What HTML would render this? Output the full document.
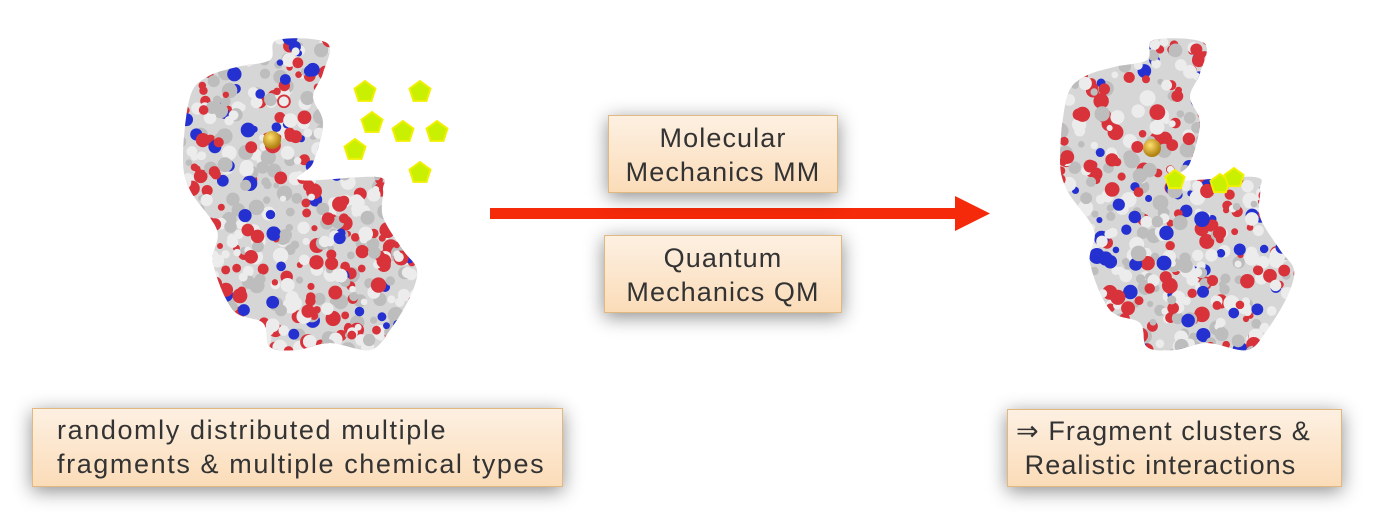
<!DOCTYPE html>
<html><head><meta charset="utf-8"><style>
html,body{margin:0;padding:0;background:#fff;}
body{width:1388px;height:532px;position:relative;overflow:hidden;font-family:"Liberation Sans",sans-serif;color:#333;}
.box{position:absolute;background:linear-gradient(#fdf0e2,#fbdcb8);border:1px solid #e0b880;box-shadow:0 4px 18px rgba(0,0,0,0.45);font-size:27px;letter-spacing:1.1px;line-height:34px;box-sizing:border-box;white-space:nowrap;}
.c{text-align:center;}
svg{position:absolute;left:0;top:0;}
</style></head><body>
<svg id="s" width="1388" height="532" viewBox="0 0 1388 532">
<defs>
<clipPath id="cp"><path id="blob" d=""/></clipPath>
<radialGradient id="gold" cx="0.4" cy="0.35" r="0.6"><stop offset="0" stop-color="#ffe070"/><stop offset="1" stop-color="#b08010"/></radialGradient>
</defs>
<g id="p1" clip-path="url(#cp)"><rect x="170" y="30" width="260" height="330" fill="#d6d6d6"/></g>
<g id="p2" transform="translate(877,0)" clip-path="url(#cp)"><rect x="170" y="30" width="260" height="330" fill="#d6d6d6"/></g>
<circle cx="272" cy="140" r="9" fill="url(#gold)"/>
<circle cx="1152" cy="148" r="9" fill="url(#gold)"/>
<g id="pent"></g>
<rect x="490" y="208" width="470" height="11" fill="#f52a0a"/>
<polygon points="955,196 990,213.5 955,231" fill="#f52a0a"/>
</svg>
<div class="box c" style="left:608px;top:115px;width:230px;height:78px;padding-top:5px;">Molecular<br>Mechanics MM</div>
<div class="box c" style="left:604px;top:235px;width:238px;height:78px;padding-top:5px;">Quantum<br>Mechanics QM</div>
<div class="box" style="left:32px;top:408px;width:531px;height:79px;padding:4px 0 0 24px;letter-spacing:1.6px;">randomly distributed multiple<br>fragments &amp; multiple chemical types</div>
<div class="box" style="left:1007px;top:409px;width:335px;height:78px;padding:4px 0 0 8px;">⇒ Fragment clusters &amp;<br>&nbsp;Realistic interactions</div>
<script>
var ns="http://www.w3.org/2000/svg";
var P=[[277,40],[327,43],[323,73],[313,97],[323,123],[313,163],[300,180],[377,177],[383,190],[383,217],[403,250],[417,270],[410,297],[390,330],[370,350],[330,343],[297,350],[270,347],[263,323],[233,310],[213,263],[217,230],[190,190],[183,157],[190,97],[207,77],[237,67],[270,60]];
var n=P.length,d="M"+P[0][0]+","+P[0][1];
for(var i=0;i<n;i++){var p0=P[(i-1+n)%n],p1=P[i],p2=P[(i+1)%n],p3=P[(i+2)%n];
d+=" C"+(p1[0]+(p2[0]-p0[0])/6)+","+(p1[1]+(p2[1]-p0[1])/6)+" "+(p2[0]-(p3[0]-p1[0])/6)+","+(p2[1]-(p3[1]-p1[1])/6)+" "+p2[0]+","+p2[1];}
document.getElementById("blob").setAttribute("d",d+"Z");
var seed=7;function r(){seed=(seed*16807)%2147483647;return seed/2147483647;}
function fill(id){var g=document.getElementById(id);
for(var i=0;i<700;i++){var c=document.createElementNS(ns,"circle");
c.setAttribute("cx",175+r()*250);c.setAttribute("cy",35+r()*325);c.setAttribute("r",3+r()*5);
var t=r();c.setAttribute("fill",t<0.32?"#d8323a":(t<0.44?"#2530d0":(t<0.75?"#ececec":"#bdbdbd")));g.appendChild(c);}}
fill("p1");fill("p2");
function pent(x,y,s){var p=[];for(var k=0;k<5;k++){var a=-Math.PI/2+k*2*Math.PI/5;p.push((x+s*Math.cos(a))+","+(y+s*Math.sin(a)));}
var e=document.createElementNS(ns,"polygon");e.setAttribute("points",p.join(" "));e.setAttribute("fill","#c8f000");e.setAttribute("stroke","#f0f000");e.setAttribute("stroke-width","2");document.getElementById("pent").appendChild(e);}
[[365,92],[420,92],[372,123],[403,132],[437,132],[355,150],[420,173]].forEach(function(q){pent(q[0],q[1],11);});
[[1175,180],[1220,184],[1234,178]].forEach(function(q){pent(q[0],q[1],10);});
</script>
</body></html>
